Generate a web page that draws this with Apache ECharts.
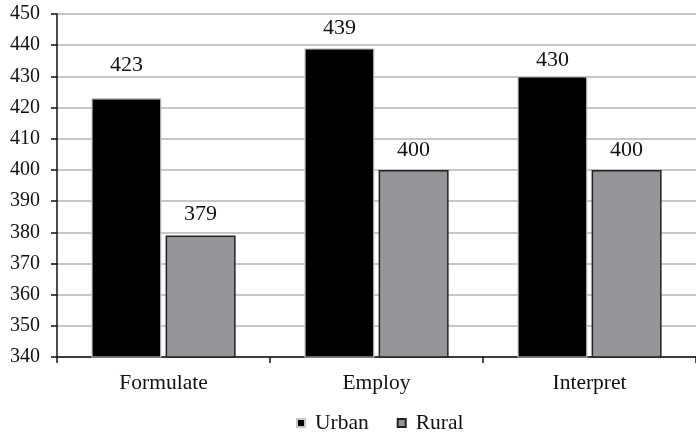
<!DOCTYPE html>
<html>
<head>
<meta charset="utf-8">
<script src="https://cdn.jsdelivr.net/npm/echarts@6/dist/echarts.min.js"></script>
<style>
html,body{margin:0;padding:0;background:#fff;}
#chart{width:696px;height:432px;}
</style>
</head>
<body>
<div id="chart"></div>
<script>
var categories = ['Formulate', 'Employ', 'Interpret'];
var urban = [423, 439, 430];
var rural = [379, 400, 400];
var seriesNames = ['Urban', 'Rural'];
var yMin = 340, yMax = 450, yStep = 10;

// label placement style (gap above each bar, px) as in the original layout
var urbanLabelGap = [22, 9, 5];
var ruralLabelGap = [10, 9, 9];

var FONT = '"Liberation Serif", "Times New Roman", serif';
var chart = echarts.init(document.getElementById('chart'));

function labelled(values, gaps) {
  return values.map(function (v, i) {
    return { value: v, label: { distance: gaps[i] } };
  });
}
var labelCfg = {
  show: true,
  position: 'top',
  fontFamily: FONT,
  fontSize: 22,
  color: '#111'
};
chart.setOption({
  animation: false,
  backgroundColor: '#fff',
  grid: { left: 57, right: -2, top: 14, bottom: 75, containLabel: false },
  legend: {
    bottom: -7,
    left: 291,
    itemWidth: 8,
    itemHeight: 8,
    itemGap: 28,
    icon: 'rect',
    textStyle: { fontFamily: FONT, fontSize: 21.5, color: '#111', padding: [0, 0, 0, 5] },
    data: seriesNames
  },
  xAxis: {
    type: 'category',
    data: categories,
    boundaryGap: true,
    axisLine: { lineStyle: { color: '#111', width: 1.5 } },
    axisTick: { show: true, length: 6, inside: false, lineStyle: { color: '#111', width: 1.5 } },
    axisLabel: { fontFamily: FONT, fontSize: 21.5, color: '#111', margin: 15 },
    splitLine: { show: false }
  },
  yAxis: {
    type: 'value',
    min: yMin,
    max: yMax,
    interval: yStep,
    axisLine: { show: true, lineStyle: { color: '#111', width: 1.5 } },
    axisTick: { show: true, length: 6, lineStyle: { color: '#111', width: 1.5 } },
    axisLabel: { fontFamily: FONT, fontSize: 20, color: '#111', margin: 17 },
    splitLine: { show: true, lineStyle: { color: '#b3b3b3', width: 1.5 } }
  },
  series: [
    {
      name: seriesNames[0],
      type: 'bar',
      data: labelled(urban, urbanLabelGap),
      barWidth: 70,
      barGap: '6%',
      itemStyle: { color: '#000', borderColor: '#c8c8c8', borderWidth: 1.2 },
      label: labelCfg
    },
    {
      name: seriesNames[1],
      type: 'bar',
      data: labelled(rural, ruralLabelGap),
      barWidth: 70,
      itemStyle: { color: '#949599', borderColor: '#222', borderWidth: 1.5 },
      label: labelCfg
    }
  ]
});
</script>
</body>
</html>
